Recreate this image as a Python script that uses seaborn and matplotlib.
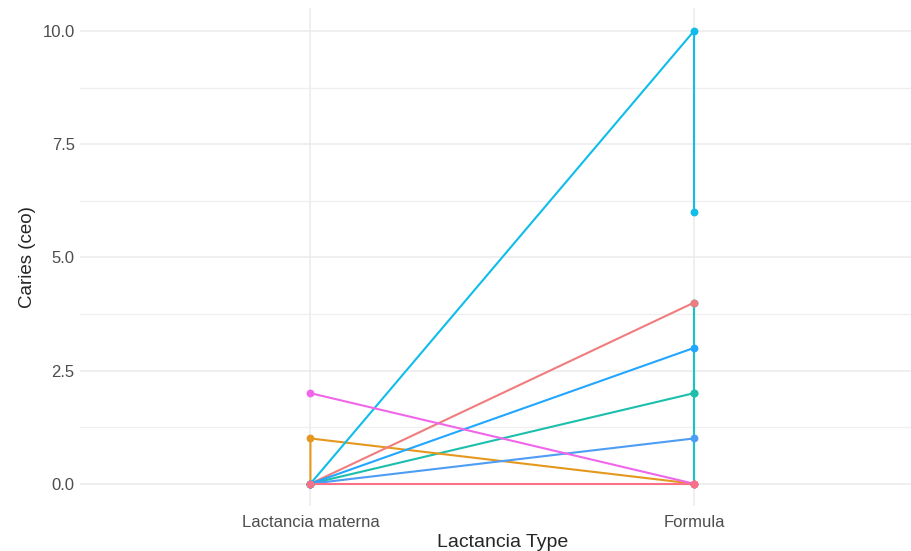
import pandas as pd
import matplotlib
matplotlib.use("Agg")
import matplotlib.pyplot as plt
import seaborn as sns

# --- data ---
tipos = ["Lactancia materna", "Formula"]

obs_grupo = ["g1", "g1",
             "g2", "g2", "g2",
             "g3", "g3", "g3",
             "g4", "g4",
             "g5", "g5", "g5",
             "g6", "g6",
             "g7", "g7",
             "g8", "g8",
             "g9", "g9"]
obs_tipo = ["Formula", "Formula",
            "Lactancia materna", "Formula", "Formula",
            "Lactancia materna", "Lactancia materna", "Formula",
            "Lactancia materna", "Formula",
            "Lactancia materna", "Formula", "Formula",
            "Lactancia materna", "Formula",
            "Lactancia materna", "Formula",
            "Lactancia materna", "Formula",
            "Lactancia materna", "Formula"]
obs_caries = [0, 4,
              0, 2, 2,
              0, 1, 0,
              0, 4,
              0, 10, 6,
              0, 3,
              0, 1,
              2, 0,
              0, 0]

grupo_colores = {"g1": "#14C4C6", "g2": "#1CBFAC", "g3": "#E5981E",
                 "g4": "#F07C7E", "g5": "#10BDEA", "g6": "#22A6FF",
                 "g7": "#4C9DF3", "g8": "#F066EA", "g9": "#FA7086"}

df = pd.DataFrame({"grupo": obs_grupo, "tipo": obs_tipo, "caries": obs_caries})

sns.set_style("white")
plt.rcParams["font.family"] = ["Liberation Sans", "DejaVu Sans"]

fig = plt.figure(figsize=(9.12, 5.51), dpi=100)
# panel runs a little past the right edge of the image, as in the reference
ax = fig.add_axes([0.088, 0.081, 0.9254, 0.904])

# keep the category order of the reference on x
ax.xaxis.update_units(tipos)

# one line per group, drawn in data order (like geom_line with group)
for g in grupo_colores:
    sub = df[df.grupo == g]
    sns.lineplot(data=sub, x="tipo", y="caries", color=grupo_colores[g],
                 sort=False, estimator=None, linewidth=1.5, ax=ax, zorder=3)

# points, one group at a time so later groups sit on top
for i, g in enumerate(grupo_colores):
    sub = df[df.grupo == g]
    sns.scatterplot(data=sub, x="tipo", y="caries", color=grupo_colores[g],
                    s=32, linewidth=0, legend=False, ax=ax, zorder=4 + i * 0.01)

ax.set_xlim(-0.6, 1.6)
ax.set_ylim(-0.5, 10.5)
ax.set_yticks([0, 2.5, 5, 7.5, 10])
ax.set_yticklabels(["0.0", "2.5", "5.0", "7.5", "10.0"])
ax.set_yticks([1.25, 3.75, 6.25, 8.75], minor=True)
ax.set_xticks([0, 1])
ax.set_xticklabels(tipos)

ax.grid(True, which="major", color="#EBEBEB", linewidth=1.1, zorder=0)
ax.grid(True, which="minor", axis="y", color="#EFEFEF", linewidth=0.9, zorder=0)
ax.set_axisbelow(True)
for s in ax.spines.values():
    s.set_visible(False)
ax.tick_params(axis="both", which="both", length=0, labelsize=12, labelcolor="#4D4D4D")
ax.tick_params(axis="x", pad=6)
ax.tick_params(axis="y", pad=4)

ax.set_xlabel("Lactancia Type", fontsize=14, labelpad=3)
ax.set_ylabel("Caries (ceo)", fontsize=13.5, labelpad=5)

fig.savefig("out.png", dpi=100)
